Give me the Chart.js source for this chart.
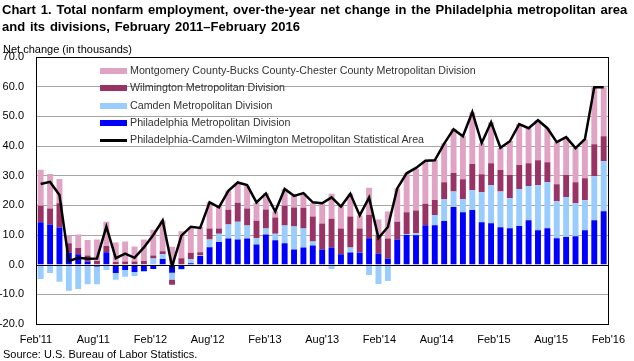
<!DOCTYPE html>
<html>
<head>
<meta charset="utf-8">
<script src="https://cdn.jsdelivr.net/npm/chart.js@4.4.1/dist/chart.umd.min.js"></script>
<style>
    body { margin: 0; background: #fff; }
    #wrap { position: relative; width: 634px; height: 361px; background: #fff; font-family: 'Liberation Sans', Arial, sans-serif; }
    #chart { position: absolute; left: 0; top: 0; }
    .title { position: absolute; left: 2px; top: 1px; font-weight: bold; font-size: 13px; line-height: 17px; word-spacing: 1.2px; color: #000; white-space: nowrap; }
    .unit { position: absolute; left: 3px; top: 43px; font-size: 11px; color: #000; }
    .source { position: absolute; left: 3px; top: 348px; font-size: 11px; color: #000; }
    #legend { position: absolute; left: 100px; top: 62px; font-size: 10.7px; color: #333; }
    #legend .row { height: 17.3px; line-height: 17.3px; white-space: nowrap; }
    #legend .sw { display: inline-block; width: 27px; vertical-align: middle; margin-right: 3px; }
</style>
</head>
<body>
<div id="wrap">
    <canvas id="chart" width="634" height="361"></canvas>
    <div class="title">Chart 1. Total nonfarm employment, over-the-year net change in the Philadelphia metropolitan area<br>and its divisions, February 2011–February 2016</div>
    <div class="unit">Net change (in thousands)</div>
    <div id="legend"></div>
    <div class="source">Source: U.S. Bureau of Labor Statistics.</div>
</div>
<script>
const monthNames = ['Jan', 'Feb', 'Mar', 'Apr', 'May', 'Jun', 'Jul', 'Aug', 'Sep', 'Oct', 'Nov', 'Dec'];
const months = [];
for (let i = 0; i < 61; i++) {
    const m = (1 + i) % 12;
    const y = 11 + Math.floor((1 + i) / 12);
    months.push(monthNames[m] + "'" + y);
}

const xTickLabels = ["Feb'11", "Aug'11", "Feb'12", "Aug'12", "Feb'13", "Aug'13", "Feb'14", "Aug'14", "Feb'15", "Aug'15", "Feb'16"];

const philadelphia = [
    14.3, 13.5, 12.5, 4.1, 3.5, 1.1, -0.6, 4.2, -2.8, -1.8, -2.5, -2.1,
    -1.5, 1.9, -2.7, -1.5, 0.5, 2.9, 5.9, 7.6, 8.8, 8.5, 8.8, 6.8,
    10.2, 8.2, 7.2, 5.1, 5.8, 6.5, 5.1, 5.8, 3.5, 4.1, 4.1, 8.9,
    3.8, 2.1, 8.5, 10.0, 9.9, 13.3, 13.3, 14.7, 19.4, 17.7, 18.4, 14.3,
    14.0, 12.6, 12.3, 13.0, 15.0, 11.6, 12.3, 8.9, 9.3, 9.6, 11.6, 15.0,
    18.0
];
const camden = [
    -4.8, -2.8, -5.8, -8.8, -8.2, -6.6, -6.0, -1.8, -2.3, -2.3, -1.3, -0.4,
    2.1, 1.6, -2.3, -0.2, 1.3, 0.2, 2.6, 2.8, 4.7, 6.0, 4.4, 2.2,
    2.0, 2.2, 6.0, 7.8, 6.4, 1.3, -0.3, -1.5, -0.2, 1.7, 0.1, -3.5,
    -6.5, -5.5, -0.4, 0.3, 0.7, 0.1, 3.4, 7.4, 5.3, 4.4, 6.7, 10.1,
    12.8, 12.1, 10.1, 12.5, 11.5, 15.2, 15.5, 12.5, 13.5, 11.1, 10.1, 14.8,
    16.9
];
const wilmington = [
    5.6, 5.4, 8.2, 3.1, 2.1, 2.0, 1.2, 2.1, 0.9, 1.1, 1.1, 1.2,
    1.0, 1.0, -1.8, 2.2, 2.2, 1.1, 3.7, 1.8, 5.0, 6.4, 5.7, 5.8,
    6.4, 5.5, 6.7, 6.4, 7.0, 8.4, 8.8, 9.7, 8.7, 10.4, 8.0, 7.9,
    6.0, 6.7, 6.0, 7.4, 7.7, 7.1, 5.1, 5.7, 6.2, 6.7, 8.8, 6.1,
    7.4, 7.2, 7.8, 8.1, 7.7, 8.4, 6.7, 5.7, 7.4, 7.1, 7.4, 10.8,
    8.4
];
const montgomery = [
    12.1, 11.7, 8.2, 2.6, 4.6, 5.2, 7.3, 8.2, 6.6, 6.7, 5.0, 7.3,
    8.7, 10.4, 6.0, 9.1, 8.8, 8.5, 8.8, 7.5, 6.4, 6.8, 7.6, 6.1,
    5.5, 2.0, 5.6, 4.0, 4.9, 4.5, 6.6, 8.4, 7.7, 7.7, 4.4, 9.1,
    5.4, 9.1, 11.2, 13.0, 14.0, 14.4, 13.5, 13.1, 14.9, 14.5, 17.5, 10.4,
    13.8, 7.4, 11.5, 13.8, 11.8, 13.5, 11.5, 14.2, 12.8, 11.5, 13.1, 19.2,
    16.5
];
const msaTotal = [
    27.2, 27.9, 23.5, 1.2, 2.3, 2.0, 2.1, 12.8, 2.2, 3.7, 2.3, 5.8,
    10.0, 14.9, -0.6, 9.8, 12.8, 12.4, 21.0, 19.3, 24.9, 27.7, 26.8, 21.0,
    24.0, 17.9, 25.5, 23.2, 24.1, 21.0, 20.7, 22.7, 19.6, 23.9, 16.6, 22.6,
    9.0, 12.7, 25.7, 30.8, 32.6, 35.0, 35.2, 40.8, 45.6, 43.3, 51.4, 41.0,
    48.0, 39.4, 41.6, 47.4, 46.0, 48.7, 46.0, 41.3, 43.0, 39.3, 42.3, 59.8,
    59.8
];

const fontFamily = "'Liberation Sans', Arial, sans-serif";

// black box round the plot and the zero line
const frame = {
    id: 'frame',
    afterDatasetsDraw(chart) {
        const { ctx, chartArea, scales } = chart;
        const y0 = Math.round(scales.y.getPixelForValue(0)) + 0.5;
        ctx.save();
        ctx.strokeStyle = '#000';
        ctx.lineWidth = 1;
        ctx.beginPath();
        ctx.moveTo(chartArea.left, y0);
        ctx.lineTo(chartArea.right, y0);
        ctx.stroke();
        ctx.strokeRect(Math.round(chartArea.left) + 0.5, Math.round(chartArea.top) + 0.5,
            Math.round(chartArea.right - chartArea.left), Math.round(chartArea.bottom - chartArea.top));
        ctx.restore();
    }
};

const barDefaults = { type: 'bar', stack: 'div', order: 1, barPercentage: 0.63, categoryPercentage: 1 };

const chart = new Chart(document.getElementById('chart'), {
    data: {
        labels: months,
        datasets: [
            { ...barDefaults, label: 'Philadelphia Metropolitan Division', data: philadelphia, backgroundColor: '#0000FF' },
            { ...barDefaults, label: 'Camden Metropolitan Division', data: camden, backgroundColor: '#99CCFF' },
            { ...barDefaults, label: 'Wilmington Metropolitan Division', data: wilmington, backgroundColor: '#993366' },
            { ...barDefaults, label: 'Montgomery County-Bucks County-Chester County Metropolitan Division', data: montgomery, backgroundColor: '#E0A3C4' },
            {
                type: 'line',
                label: 'Philadelphia-Camden-Wilmington Metropolitan Statistical Area',
                data: msaTotal,
                borderColor: '#000',
                backgroundColor: '#000',
                borderWidth: 2.5,
                pointRadius: 0,
                tension: 0,
                stack: 'msa',
                order: 0
            }
        ]
    },
    options: {
        responsive: false,
        animation: false,
        devicePixelRatio: 1,
        layout: { padding: { top: 57, right: 17, left: 0, bottom: 0 } },
        plugins: {
            legend: { display: false },
            tooltip: { enabled: false }
        },
        scales: {
            x: {
                type: 'category',
                stacked: true,
                display: false
            },
            xl: {
                type: 'linear',
                position: 'bottom',
                min: 0,
                max: 60,
                grid: { display: false, drawTicks: false },
                border: { display: false },
                ticks: {
                    stepSize: 6,
                    autoSkip: false,
                    maxRotation: 0,
                    padding: 9,
                    color: '#000',
                    font: { family: fontFamily, size: 11 },
                    callback: (v) => xTickLabels[v / 6]
                },
                afterFit: (scale) => { scale.height = 37; }
            },
            y: {
                stacked: true,
                min: -20,
                max: 70,
                grid: {
                    drawTicks: false,
                    color: (c) => c.tick.value === 0 ? 'rgba(0,0,0,0)' : '#a6a6a6'
                },
                border: { display: false },
                ticks: {
                    stepSize: 10,
                    padding: 12,
                    color: '#000',
                    font: { family: fontFamily, size: 11 },
                    callback: (v) => v.toFixed(1)
                },
                afterFit: (scale) => { scale.width = 36; }
            }
        }
    },
    plugins: [frame]
});

// legend, top entry first
const legendEl = document.getElementById('legend');
const legendOrder = [3, 2, 1, 0, 4];
legendOrder.forEach(i => {
    const ds = chart.data.datasets[i];
    const row = document.createElement('div');
    row.className = 'row';
    const sw = document.createElement('span');
    sw.className = 'sw';
    sw.style.height = ds.type === 'line' ? '3px' : '6px';
    sw.style.background = ds.type === 'line' ? '#000' : ds.backgroundColor;
    row.appendChild(sw);
    row.appendChild(document.createTextNode(ds.label));
    legendEl.appendChild(row);
});
</script>
</body>
</html>
